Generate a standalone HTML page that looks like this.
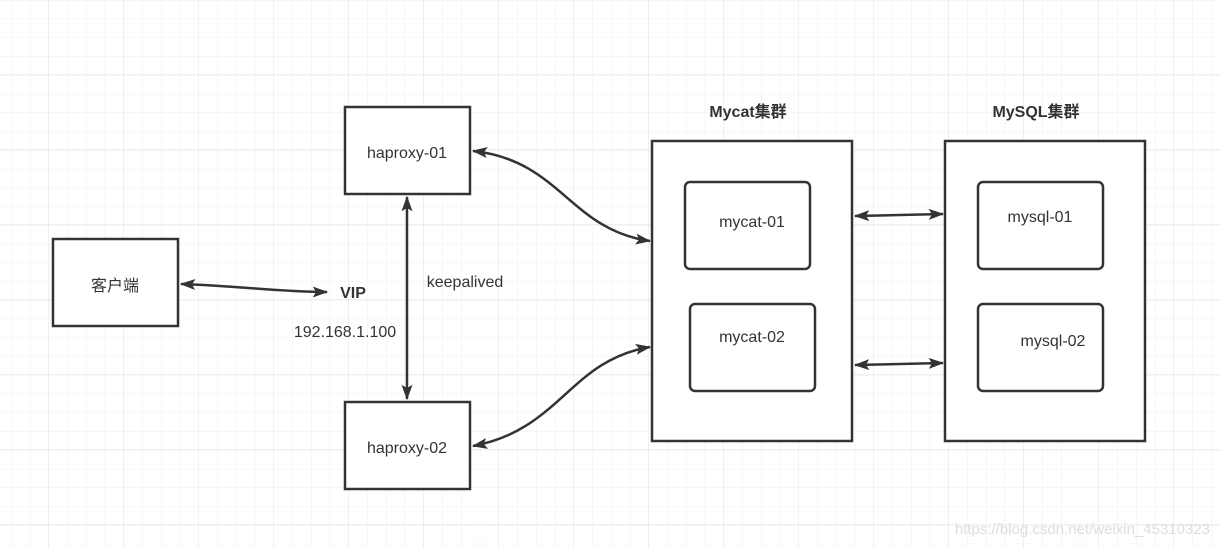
<!DOCTYPE html>
<html><head><meta charset="utf-8"><style>
html,body{margin:0;padding:0;background:#fff}
svg{display:block}
text{font-family:"Liberation Sans","Noto Sans CJK SC",sans-serif;fill:#333}
</style></head><body>
<svg width="1220" height="548" viewBox="0 0 1220 548" xmlns="http://www.w3.org/2000/svg">
<defs>
<pattern id="minor" x="11" y="0" width="18.75" height="18.75" patternUnits="userSpaceOnUse">
<path d="M0 0V18.75M0 0H18.75" stroke="#efefef" stroke-width="1" fill="none"/>
</pattern>
<pattern id="major" x="48.5" y="74" width="75" height="75" patternUnits="userSpaceOnUse">
<path d="M0 0V75M0 0H75" stroke="#e0e0e0" stroke-width="1" fill="none"/>
</pattern>
<marker id="ah" viewBox="0 0 10 10" refX="9" refY="5" markerWidth="6" markerHeight="6" orient="auto-start-reverse" markerUnits="userSpaceOnUse">
<path d="M0 0L10 5L0 10z" fill="#333"/>
</marker>
<marker id="a" viewBox="0 0 14 10" refX="13" refY="5" markerWidth="16" markerHeight="11" orient="auto-start-reverse" markerUnits="userSpaceOnUse">
<path d="M0 0L14 5L0 10L3 5z" fill="#333"/>
</marker>
</defs>
<rect width="1220" height="548" fill="#fff"/>
<rect width="1220" height="548" fill="url(#minor)"/>
<rect width="1220" height="548" fill="url(#major)"/>

<g fill="#fff" stroke="#333" stroke-width="2.5">
<rect x="53" y="239" width="125" height="87"/>
<rect x="345" y="107" width="125" height="87"/>
<rect x="345" y="402" width="125" height="87"/>
<rect x="652" y="141" width="200" height="300"/>
<rect x="945" y="141" width="200" height="300"/>
<rect x="685" y="182" width="125" height="87" rx="5"/>
<rect x="690" y="304" width="125" height="87" rx="5"/>
<rect x="978" y="182" width="125" height="87" rx="5"/>
<rect x="978" y="304" width="125" height="87" rx="5"/>
</g>

<g fill="none" stroke="#333" stroke-width="2.5" marker-start="url(#a)" marker-end="url(#a)">
<path d="M181 284 C240 286 280 292 327 292"/>
<path d="M407 197 L407 399"/>
<path d="M473 151 C560 160 570 230 650 241"/>
<path d="M473 446 C560 430 570 360 650 347"/>
<path d="M855 216 L943 214"/>
<path d="M855 365 L943 363"/>
</g>

<g font-size="16" text-anchor="middle">
<text x="115" y="291">客户端</text>
<text x="407" y="158">haproxy-01</text>
<text x="407" y="453">haproxy-02</text>
<text x="752" y="227">mycat-01</text>
<text x="752" y="342">mycat-02</text>
<text x="1040" y="222">mysql-01</text>
<text x="1053" y="346">mysql-02</text>
<text x="465" y="287">keepalived</text>
<text x="345" y="337">192.168.1.100</text>
<text x="353" y="298" font-weight="bold">VIP</text>
<text x="748" y="117" font-weight="bold">Mycat集群</text>
<text x="1036" y="117" font-weight="bold">MySQL集群</text>
</g>
<text x="1210" y="534" font-size="15" text-anchor="end" style="fill:#ddd">https://blog.csdn.net/weixin_45310323</text>
</svg>
</body></html>
